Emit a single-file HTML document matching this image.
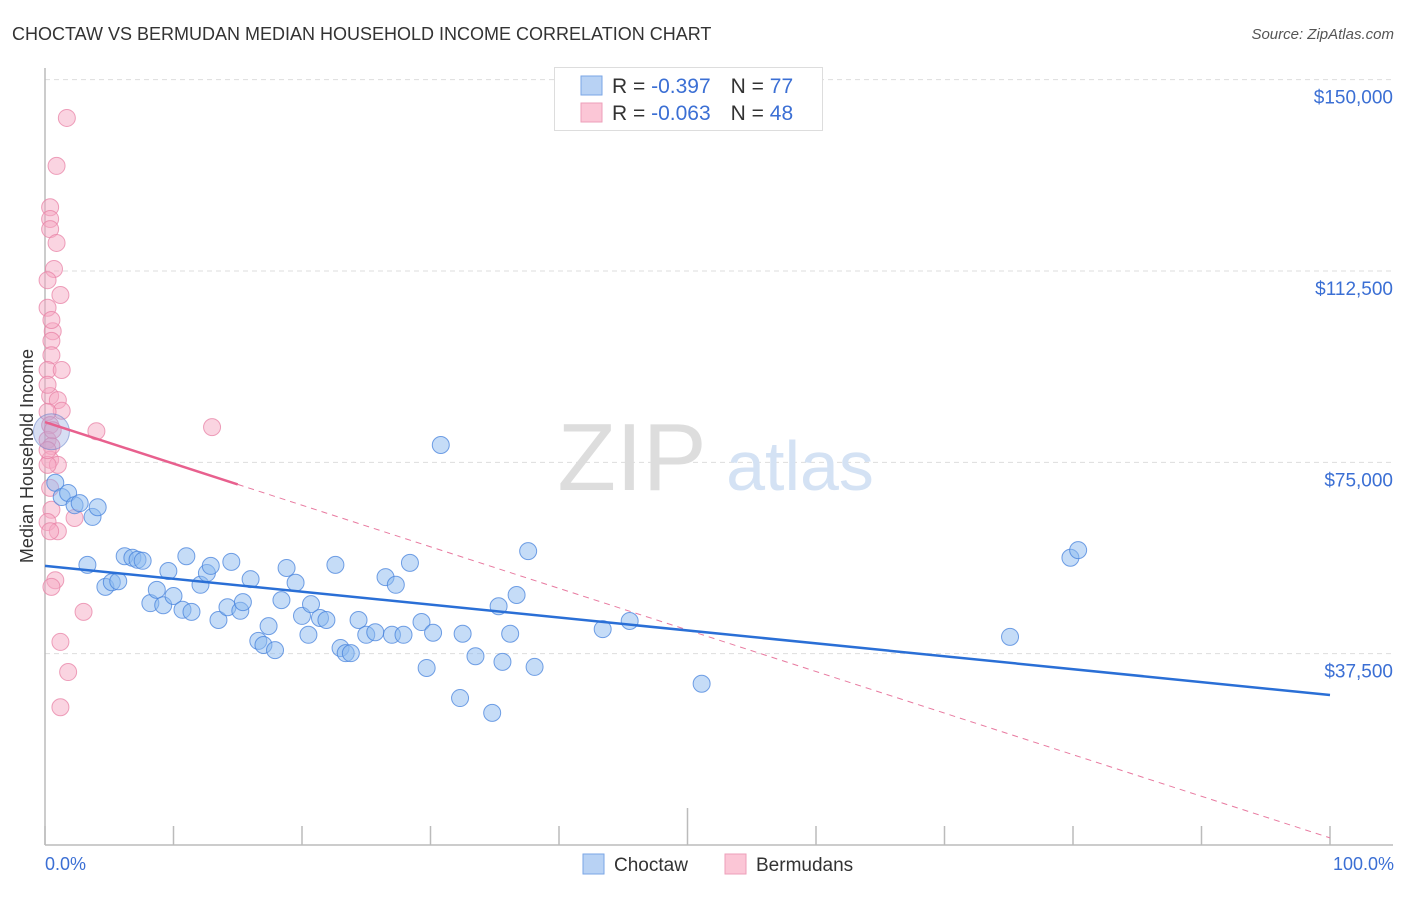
<!DOCTYPE html>
<html><head><meta charset="utf-8"><style>
body{margin:0;background:#fff;font-family:"Liberation Sans",sans-serif;}
svg text{font-family:"Liberation Sans",sans-serif;}
</style></head><body>
<svg width="1406" height="892" viewBox="0 0 1406 892">
<text x="12" y="40" font-size="18" fill="#333">CHOCTAW VS BERMUDAN MEDIAN HOUSEHOLD INCOME CORRELATION CHART</text>
<text x="1394" y="39" font-size="15" fill="#555" font-style="italic" text-anchor="end">Source: ZipAtlas.com</text>
<g id="grid"></g>
<g>
<text x="632" y="490" font-size="96" fill="#ddd" font-family="Liberation Serif" text-anchor="middle">ZIP</text>
<text x="800" y="490" font-size="70" fill="#d4e2f4" text-anchor="middle">atlas</text>
</g>
<line x1="45" y1="68" x2="45" y2="845" stroke="#bbb" stroke-width="1.5"/>
<line x1="45" y1="845" x2="1393" y2="845" stroke="#bbb" stroke-width="1.5"/>
<g id="xticks"></g>
<g id="ylabels"></g>
<text x="33" y="456" font-size="18" fill="#333" text-anchor="middle" transform="rotate(-90 33 456)">Median Household Income</text>
<text x="45" y="870" font-size="18" fill="#3b6fd4">0.0%</text>
<text x="1394" y="870" font-size="18" fill="#3b6fd4" text-anchor="end">100.0%</text>
<g id="pts"></g>
<g id="trends"></g>
<g>
<rect x="554.5" y="67.5" width="268" height="63" fill="#fff" stroke="#ddd"/>
<rect x="581" y="76" width="21" height="19" fill="#b8d2f4" stroke="#7aa6e6"/>
<rect x="581" y="103" width="21" height="19" fill="#fbc6d6" stroke="#ee9fb9"/>
<text x="612" y="93" font-size="21" fill="#333">R = <tspan fill="#3b6fd4">-0.397</tspan><tspan dx="20">N = </tspan><tspan fill="#3b6fd4">77</tspan></text>
<text x="612" y="120" font-size="21" fill="#333">R = <tspan fill="#3b6fd4">-0.063</tspan><tspan dx="20">N = </tspan><tspan fill="#3b6fd4">48</tspan></text>
</g>
<g>
<rect x="583" y="854" width="21" height="20" fill="#b8d2f4" stroke="#7aa6e6"/>
<text x="614" y="871" font-size="19" fill="#333">Choctaw</text>
<rect x="725" y="854" width="21" height="20" fill="#fbc6d6" stroke="#ee9fb9"/>
<text x="756" y="871" font-size="19" fill="#333">Bermudans</text>
</g>
</svg>
<script>
const yTicks=[37500,75000,112500,150000];
const yTickLabels=["$37,500","$75,000","$112,500","$150,000"];
const choctawX=[0.8,1.3,1.8,2.3,2.7,3.7,4.1,3.3,4.7,5.2,5.7,6.2,6.8,7.2,7.6,8.2,8.7,9.2,9.6,10.0,10.7,11.0,11.4,12.1,12.6,12.9,13.5,14.2,14.5,15.2,15.4,16.0,16.6,17.0,17.4,17.9,18.4,18.8,19.5,20.0,20.5,20.7,21.4,21.9,22.6,23.0,23.4,23.8,24.4,25.0,25.7,26.5,27.0,27.3,27.9,28.4,29.3,29.7,30.2,30.8,32.3,32.5,33.5,34.8,35.3,35.6,36.2,36.7,37.6,38.1,43.4,45.5,51.1,75.1,79.8,80.4];
const choctawY=[71.0,68.2,69.0,66.6,67.0,64.3,66.2,54.9,50.6,51.5,51.7,56.6,56.3,55.9,55.7,47.4,50.0,47.0,53.7,48.8,46.1,56.6,45.7,51.0,53.3,54.7,44.1,46.6,55.5,45.9,47.6,52.1,40.0,39.2,42.9,38.2,48.0,54.3,51.4,44.9,41.2,47.2,44.5,44.1,54.9,38.6,37.6,37.6,44.1,41.2,41.7,52.5,41.2,51.0,41.2,55.3,43.7,34.7,41.6,78.4,28.8,41.4,37.0,25.9,46.8,35.9,41.4,49.0,57.6,34.9,42.3,43.9,31.6,40.8,56.3,57.8];
const bermudaX=[1.7,0.9,0.4,0.4,0.4,0.9,0.7,1.2,0.2,0.6,0.5,0.5,0.2,1.3,0.4,1.0,1.3,0.2,0.4,4.0,13.0,0.2,0.5,0.4,1.0,0.2,0.4,0.5,2.3,0.2,1.0,0.4,0.8,0.5,3.0,1.2,1.8,1.2,0.2,0.6,0.2,0.5,0.2];
const bermudaY=[142.5,133.1,125.0,122.7,120.7,118.0,112.9,107.8,105.3,100.7,98.8,96.0,93.1,93.1,88.0,87.2,85.1,84.9,82.3,81.1,81.9,79.4,78.2,75.5,74.5,74.5,70.0,65.7,64.1,63.3,61.5,61.5,51.9,50.6,45.7,39.8,33.9,27.0,77.4,81.3,90.2,102.9,110.7];
const blueTrend=[54.7,29.4];
const pinkTrend=[82.9,1.4];
const pinkSolidEnd=15;
const NS="http://www.w3.org/2000/svg";
const xs=p=>45+p*12.85;
const ys=k=>845-k*1000*191.33/37500;
function mk(t,a,parent){const e=document.createElementNS(NS,t);for(const k in a)e.setAttribute(k,a[k]);document.getElementById(parent).appendChild(e);return e;}
yTicks.forEach((v,i)=>{
 const g=mk('line',{x1:45,x2:1393,y1:ys(v/1000),y2:ys(v/1000),stroke:'#ddd','stroke-dasharray':'5,4'},'grid');
 
 
 const t=mk('text',{x:1393,y:ys(v/1000)+24,'font-size':19,fill:'#3b6fd4','text-anchor':'end'},'ylabels');
 t.textContent=yTickLabels[i];
 
 
});
for(let i=0;i<=10;i++){
 const l=mk('line',{x1:xs(i*10),x2:xs(i*10),y1:i==5?808:826,y2:845,stroke:'#bbb','stroke-width':1.5},'xticks');
 
 
}
bermudaX.forEach((x,i)=>{
 const c=mk('circle',{cx:xs(x),cy:ys(bermudaY[i]),r:8.5,fill:'rgba(246,170,195,0.5)',stroke:'rgba(232,130,165,0.75)'},'pts');
 
 
});
choctawX.forEach((x,i)=>{
 const c=mk('circle',{cx:xs(x),cy:ys(choctawY[i]),r:8.5,fill:'rgba(140,185,240,0.5)',stroke:'rgba(70,130,220,0.75)'},'pts');
 
 
});
const big=mk('circle',{cx:xs(0.5),cy:ys(81),r:18,fill:'rgba(140,160,220,0.35)',stroke:'rgba(90,120,200,0.5)'},'pts');


const pAt=p=>pinkTrend[0]+(pinkTrend[1]-pinkTrend[0])*p/100;
const pd=mk('line',{x1:xs(pinkSolidEnd),y1:ys(pAt(pinkSolidEnd)),x2:xs(100),y2:ys(pinkTrend[1]),stroke:'#e87aa0','stroke-width':1,'stroke-dasharray':'6,5'},'trends');


const ps=mk('line',{x1:xs(0),y1:ys(pinkTrend[0]),x2:xs(pinkSolidEnd),y2:ys(pAt(pinkSolidEnd)),stroke:'#e8608e','stroke-width':2.5},'trends');


const bl=mk('line',{x1:xs(0),y1:ys(blueTrend[0]),x2:xs(100),y2:ys(blueTrend[1]),stroke:'#2a6fd6','stroke-width':2.5},'trends');


</script>
</body></html>
